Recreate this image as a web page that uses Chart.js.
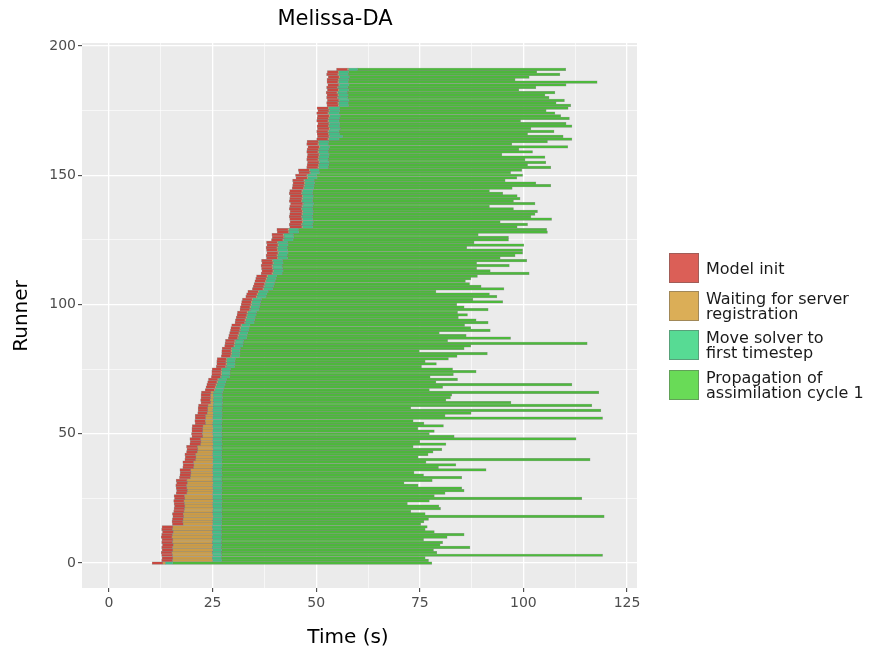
<!DOCTYPE html>
<html>
<head>
<meta charset="utf-8">
<title>Melissa-DA</title>
<script src="https://cdn.jsdelivr.net/npm/chart.js@4.4.1/dist/chart.umd.min.js"></script>
<style>
  html, body { margin: 0; padding: 0; background: #ffffff; }
  #wrap { position: relative; width: 877px; height: 649px; font-family: "DejaVu Sans", sans-serif; }
  #chart { position: absolute; left: 0; top: 0; }
  .txt { position: absolute; white-space: nowrap; text-align: center; color: #000; }
  #plot-title { left: 135px; top: 6px; width: 400px; font-size: 21px; line-height: 24px; }
  #x-title { left: 148px; top: 624px; width: 400px; font-size: 20px; line-height: 24px; }
  #y-title { left: -80px; top: 304px; width: 200px; font-size: 20px; line-height: 24px; transform: rotate(-90deg); }
  .leg-item { position: absolute; left: 669px; display: flex; align-items: center; }
  .leg-key { width: 30px; height: 30px; box-sizing: border-box; border: 1px solid rgba(90, 90, 90, 0.45); }
  .leg-text { margin-left: 7px; font-size: 16px; line-height: 15px; color: #1a1a1a; }
</style>
</head>
<body>
<div id="wrap">
  <canvas id="chart" width="877" height="649"></canvas>
  <div id="plot-title" class="txt">Melissa-DA</div>
  <div id="x-title" class="txt">Time (s)</div>
  <div id="y-title" class="txt">Runner</div>
  <div id="legend"></div>
</div>
<script>
// -----------------------------------------------------------
// Data: one entry per runner, listed from the top runner (191)
// down to runner 0. Times in seconds.
// -----------------------------------------------------------
const initStart = [
  54.9,
  52.7, 52.5, 52.9, 52.6, 52.6, 52.8, 52.5, 52.7, 52.4, 52.6, 52.5, 52.7, 52.5, 52.6,
  50.2, 50.4, 50.1, 50.3, 50.2, 50.1, 50.4, 50.2, 50.3, 50.1, 50.2, 50.3, 50.1,
  47.8, 47.7, 48.0, 47.8, 47.7, 47.9, 47.8, 47.7, 47.9, 47.8, 47.7,
  45.7, 45.8, 45.0, 45.1, 44.3, 44.4, 44.3, 44.2,
  43.6, 43.5, 43.7, 43.6, 43.5, 43.8, 43.6, 43.5, 43.7, 43.6, 43.5, 43.6, 43.7, 43.5, 43.6,
  40.5, 40.6, 39.3, 39.4, 39.2,
  38.0, 38.1, 37.9, 38.0, 38.1, 37.9, 38.0,
  36.8, 36.9, 36.7, 36.8, 36.9, 36.7,
  35.6, 35.4, 35.2, 35.0, 34.8, 34.6,
  33.5, 33.2, 33.0,
  32.2, 32.0, 31.9, 31.7, 31.6,
  31.0, 30.9, 30.7, 30.5, 30.4,
  29.6, 29.4, 29.3, 29.1, 28.9, 28.8,
  28.1, 28.0, 27.9,
  27.3, 27.2, 27.2, 27.1,
  26.1, 26.0, 26.0, 25.9,
  24.9, 24.8, 24.8, 24.7,
  24.0, 23.8, 23.6, 23.4, 23.2,
  22.3, 22.2, 22.2, 22.1, 22.2,
  21.6, 21.5, 21.5, 21.4,
  20.8, 20.8, 20.7, 20.8,
  20.1, 20.0, 20.0, 19.9, 20.0,
  19.5, 19.6, 19.5,
  18.7, 18.8, 18.7,
  18.3, 18.4, 18.3,
  17.8, 17.9, 17.8,
  17.1, 17.2, 17.1, 17.0,
  16.2, 16.3, 16.1, 16.2, 16.3, 16.2,
  15.7, 15.8, 15.6, 15.7, 15.8, 15.7, 15.6,
  15.3, 15.4, 15.3, 15.2, 15.3,
  12.8, 12.7, 12.9, 12.7, 12.6, 12.8, 12.7, 12.9, 12.7, 12.8, 12.6, 12.7, 12.8, 12.7,
  10.4
];

const initEnd = [
  57.5,
  55.3, 55.2, 55.5, 55.3, 55.2, 55.4, 55.1, 55.3, 55.0, 55.2, 55.1, 55.4, 55.2, 55.3,
  52.9, 53.0, 52.8, 53.1, 52.9, 52.8, 53.0, 52.9, 53.1, 52.8, 52.9, 53.0, 52.8,
  50.5, 50.4, 50.7, 50.5, 50.4, 50.6, 50.5, 50.4, 50.6, 50.5, 50.4,
  48.3, 48.4, 47.7, 47.8, 47.0, 47.1, 47.0, 46.9,
  46.5, 46.4, 46.6, 46.5, 46.4, 46.7, 46.5, 46.4, 46.6, 46.5, 46.4, 46.5, 46.6, 46.4, 46.5,
  43.2, 43.3, 42.0, 42.1, 41.9,
  40.6, 40.7, 40.5, 40.6, 40.7, 40.5, 40.6,
  39.4, 39.5, 39.3, 39.4, 39.5, 39.3,
  38.1, 37.9, 37.7, 37.5, 37.3, 37.1,
  36.0, 35.7, 35.5,
  34.5, 34.3, 34.2, 34.0, 33.9,
  33.3, 33.2, 33.0, 32.8, 32.7,
  31.8, 31.6, 31.5, 31.3, 31.1, 31.0,
  30.3, 30.2, 30.1,
  29.5, 29.4, 29.4, 29.3,
  28.3, 28.2, 28.2, 28.1,
  27.1, 27.0, 27.0, 26.9,
  26.2, 26.0, 25.8, 25.6, 25.4,
  24.6, 24.5, 24.5, 24.4, 24.5,
  23.9, 23.8, 23.8, 23.7,
  23.3, 23.3, 23.2, 23.3,
  22.7, 22.6, 22.6, 22.5, 22.6,
  22.1, 22.2, 22.1,
  21.3, 21.4, 21.3,
  20.9, 21.0, 20.9,
  20.4, 20.5, 20.4,
  19.7, 19.8, 19.7, 19.6,
  18.8, 18.9, 18.7, 18.8, 18.9, 18.8,
  18.2, 18.3, 18.1, 18.2, 18.3, 18.2, 18.1,
  17.9, 18.0, 17.9, 17.8, 17.9,
  15.4, 15.3, 15.5, 15.3, 15.2, 15.4, 15.3, 15.5, 15.3, 15.4, 15.2, 15.3, 15.4, 15.3,
  13.0
];

const waitEnd = [
  57.8,
  55.5, 55.4, 55.7, 55.5, 55.4, 55.6, 55.3, 55.5, 55.2, 55.4, 55.3, 55.6, 55.4, 55.5,
  53.1, 53.2, 53.0, 53.3, 53.1, 53.0, 53.2, 53.1, 53.3, 53.0, 53.1, 53.2, 53.0,
  50.7, 50.6, 50.9, 50.7, 50.6, 50.8, 50.7, 50.6, 50.8, 50.7, 50.6,
  48.5, 48.6, 47.9, 48.0, 47.2, 47.3, 47.2, 47.1,
  46.7, 46.6, 46.8, 46.7, 46.6, 46.9, 46.7, 46.6, 46.8, 46.7, 46.6, 46.7, 46.8, 46.6, 46.7,
  43.4, 43.5, 42.2, 42.3, 42.1,
  40.8, 40.9, 40.7, 40.8, 40.9, 40.7, 40.8,
  39.6, 39.7, 39.5, 39.6, 39.7, 39.5,
  38.3, 38.1, 37.9, 37.7, 37.5, 37.3,
  36.2, 35.9, 35.7,
  34.7, 34.5, 34.4, 34.2, 34.1,
  33.5, 33.4, 33.2, 33.0, 32.9,
  32.0, 31.8, 31.7, 31.5, 31.3, 31.2,
  30.5, 30.4, 30.3,
  29.7, 29.6, 29.6, 29.5,
  28.5, 28.4, 28.4, 28.3,
  27.3, 27.2, 27.2, 27.1,
  26.4, 26.2, 26.0, 25.8, 25.6,
  25.2, 25.1, 25.2, 25.1, 25.2,
  25.1, 25.1, 25.0, 25.1,
  25.1, 25.0, 25.1, 25.0,
  25.0, 25.1, 25.0, 25.0, 25.1,
  25.0, 25.0, 25.1,
  25.0, 25.1, 25.0,
  25.0, 25.0, 25.1,
  25.0, 25.1, 25.0,
  25.0, 25.0, 25.1, 25.0,
  25.0, 25.1, 25.0, 25.0, 25.1, 25.0,
  25.0, 25.0, 25.1, 25.0, 25.0, 25.1, 25.0,
  25.0, 25.1, 25.0, 25.0, 25.0,
  24.9, 25.0, 24.9, 25.0, 24.9, 25.0, 24.9, 25.0, 24.9, 25.0, 24.9, 25.0, 24.9, 25.0,
  13.6
];

const moveEnd = [
  60.0,
  57.8, 57.7, 58.0, 57.8, 57.7, 57.9, 57.6, 57.8, 57.5, 57.7, 57.6, 57.9, 57.7, 57.8,
  55.6, 55.7, 55.5, 55.8, 55.6, 55.5, 55.7, 55.6, 55.8, 55.5, 55.6, 56.4, 55.5,
  53.0, 52.9, 53.2, 53.0, 52.9, 53.1, 53.0, 52.9, 53.1, 53.0, 52.9,
  50.7, 50.8, 50.1, 50.2, 49.5, 49.6, 49.5, 49.4,
  49.2, 49.1, 49.3, 49.2, 49.1, 49.4, 49.2, 49.1, 49.3, 49.2, 49.1, 49.2, 49.3, 49.1, 49.2,
  45.7, 45.8, 44.5, 44.6, 44.4,
  43.1, 43.2, 43.0, 43.1, 43.2, 43.0, 43.1,
  41.9, 42.0, 41.8, 41.9, 42.0, 41.8,
  40.5, 40.3, 40.1, 39.9, 39.7, 39.5,
  38.4, 38.1, 37.9,
  36.8, 36.6, 36.5, 36.3, 36.2,
  35.6, 35.5, 35.3, 35.1, 35.0,
  34.0, 33.8, 33.7, 33.5, 33.3, 33.2,
  32.5, 32.4, 32.3,
  31.7, 31.6, 31.6, 31.5,
  30.5, 30.4, 30.4, 30.3,
  29.3, 29.2, 29.2, 29.1,
  28.4, 28.2, 28.0, 27.8, 27.6,
  27.4, 27.3, 27.4, 27.3, 27.4,
  27.3, 27.3, 27.2, 27.3,
  27.3, 27.2, 27.3, 27.2,
  27.2, 27.3, 27.2, 27.2, 27.3,
  27.2, 27.2, 27.3,
  27.2, 27.3, 27.2,
  27.2, 27.2, 27.3,
  27.2, 27.3, 27.2,
  27.2, 27.2, 27.3, 27.2,
  27.2, 27.3, 27.2, 27.2, 27.3, 27.2,
  27.2, 27.2, 27.3, 27.2, 27.2, 27.3, 27.2,
  27.2, 27.3, 27.2, 27.2, 27.2,
  27.1, 27.2, 27.1, 27.2, 27.1, 27.2, 27.1, 27.2, 27.1, 27.2, 27.1, 27.2, 27.1, 27.2,
  15.4
];

const propEnd = [
  110.2, 103.2, 108.8, 101.4, 98.0, 117.8, 110.3, 103.0, 98.9, 107.6,
  105.2, 106.2, 109.9, 107.9, 111.4, 110.8, 105.5, 107.6, 109.0, 111.1,
  99.3, 110.3, 111.7, 101.8, 107.4, 101.0, 109.6, 111.7, 105.8, 97.2,
  110.7, 98.9, 102.2, 94.8, 105.2, 100.4, 105.4, 101.0, 106.6, 99.6,
  96.9, 99.8, 98.4, 95.6, 103.0, 106.6, 97.3, 91.8, 95.0, 98.5,
  99.2, 97.6, 102.8, 91.8, 97.6, 103.4, 102.8, 101.8, 106.8, 94.4,
  101.0, 98.5, 105.6, 105.8, 89.1, 96.4, 96.4, 88.1, 100.1, 86.3,
  99.8, 99.8, 98.0, 94.4,
  100.8, 88.7, 96.6, 88.7, 92.0, 101.4, 88.9, 87.3, 86.0, 87.0,
  89.8, 95.3, 78.9, 91.8, 93.6, 87.8, 95.0, 83.9, 85.7, 91.5,
  84.1, 86.5, 84.3, 88.6, 91.5, 85.8, 87.3, 92.0, 79.7, 86.2,
  96.9, 81.7, 115.4, 87.3, 85.7, 74.9,
  91.3, 84.0, 81.9, 76.3, 79.0, 75.4, 82.9, 88.6, 83.1, 77.5,
  84.1, 78.9, 111.7, 80.5, 77.3, 118.2, 82.7, 82.4, 81.3, 97.0,
  116.5, 72.8, 118.7, 87.4, 81.1, 119.1, 73.4, 76.0, 80.7, 74.5,
  78.5, 77.3, 83.3, 112.7, 75.0, 81.3, 73.4, 80.3, 78.2, 77.0,
  74.6, 116.1, 76.5, 83.7, 79.5, 91.0, 73.6, 75.9, 85.1, 78.0,
  71.2, 74.6, 85.1, 85.7, 81.1, 78.5, 114.1, 77.3, 72.0, 79.6,
  80.0, 72.8, 76.3, 119.5, 77.1, 76.0, 75.2, 76.8, 76.3, 78.5,
  85.7, 81.6, 75.9, 80.5, 79.9, 87.1, 78.3, 79.1, 119.1, 76.3,
  77.1, 77.9
];

const phaseNames = [
  'Model init',
  'Waiting for server registration',
  'Move solver to first timestep',
  'Propagation of assimilation cycle 1'
];
const legendLines = [
  ['Model init'],
  ['Waiting for server', 'registration'],
  ['Move solver to', 'first timestep'],
  ['Propagation of', 'assimilation cycle 1']
];
const legendColors = ['#DB5F57', '#DBAE57', '#57DB94', '#69DB57'];
const barColors = ['#C84840', '#CC9C46', '#42BE86', '#4DB83C'];
const legendTops = [253, 291, 330, 370];

const xTickVals = [0, 25, 50, 75, 100, 125];
const xMinorVals = [12.5, 37.5, 62.5, 87.5, 112.5];
const yTickVals = [0, 50, 100, 150, 200];
const yMinorVals = [25, 75, 125, 175];

// -----------------------------------------------------------
// Build the datasets
// -----------------------------------------------------------
const nRunners = initStart.length;
[initEnd, waitEnd, moveEnd, propEnd].forEach((arr, k) => {
  if (arr.length !== nRunners) console.error('length mismatch in array', k, arr.length, nRunners);
});

function segments(from, to) {
  return from.map((a, i) => ({ x: [a, to[i]], y: nRunners - 1 - i }));
}

const phaseBounds = [
  [initStart, initEnd],
  [initEnd, waitEnd],
  [waitEnd, moveEnd],
  [moveEnd, propEnd]
];

const datasets = phaseBounds.map((b, k) => ({
  label: phaseNames[k],
  data: segments(b[0], b[1]),
  backgroundColor: barColors[k],
  borderColor: 'rgba(105, 110, 105, 0.6)',
  borderWidth: 0.5,
  borderSkipped: false
}));

// Grey panel behind the grid, like the ggplot theme
const panelBackground = {
  id: 'panelBackground',
  beforeDraw(chart) {
    const { ctx, chartArea } = chart;
    ctx.save();
    ctx.fillStyle = '#EBEBEB';
    ctx.fillRect(chartArea.left, chartArea.top, chartArea.right - chartArea.left, chartArea.bottom - chartArea.top);
    ctx.restore();
  }
};

function gridFor(majors) {
  return {
    color: '#FFFFFF',
    lineWidth: c => (c.tick && majors.includes(c.tick.value)) ? 1.3 : 0.6,
    tickColor: c => (c.tick && majors.includes(c.tick.value)) ? '#333333' : 'rgba(0,0,0,0)',
    tickWidth: 1,
    tickLength: 4,
    drawTicks: true,
    offset: false
  };
}

const tickFont = { family: '"DejaVu Sans", sans-serif', size: 14 };

const ctx = document.getElementById('chart').getContext('2d');
new Chart(ctx, {
  type: 'bar',
  data: { datasets: datasets },
  options: {
    indexAxis: 'y',
    responsive: false,
    animation: false,
    events: [],
    layout: { padding: { top: 43, right: 240, bottom: 0, left: 0 } },
    datasets: {
      bar: { grouped: false, barPercentage: 1, categoryPercentage: 1 }
    },
    plugins: {
      legend: { display: false },
      tooltip: { enabled: false },
      title: { display: false }
    },
    scales: {
      x: {
        type: 'linear',
        min: -6.52,
        max: 127.41,
        afterBuildTicks: s => { s.ticks = xTickVals.concat(xMinorVals).sort((a, b) => a - b).map(v => ({ value: v })); },
        afterFit: s => { s.height = 61; s.paddingLeft = 0; s.paddingRight = 0; },
        grid: gridFor(xTickVals),
        border: { display: false },
        ticks: {
          autoSkip: false,
          maxRotation: 0,
          padding: 3,
          color: '#4D4D4D',
          font: tickFont,
          callback: v => xTickVals.includes(v) ? String(v) : ''
        }
      },
      y: {
        type: 'linear',
        offset: false,
        min: -9.67,
        max: 201.16,
        afterBuildTicks: s => { s.ticks = yTickVals.concat(yMinorVals).sort((a, b) => a - b).map(v => ({ value: v })); },
        afterFit: s => { s.width = 82; s.paddingTop = 0; s.paddingBottom = 0; },
        grid: gridFor(yTickVals),
        border: { display: false },
        ticks: {
          autoSkip: false,
          padding: 2,
          color: '#4D4D4D',
          font: tickFont,
          callback: v => yTickVals.includes(v) ? String(v) : ''
        }
      }
    }
  },
  plugins: [panelBackground]
});

// -----------------------------------------------------------
// Legend (HTML, to the right of the panel)
// -----------------------------------------------------------
const legendBox = document.getElementById('legend');
legendLines.forEach((lines, k) => {
  const item = document.createElement('div');
  item.className = 'leg-item';
  item.style.top = legendTops[k] + 'px';
  const key = document.createElement('div');
  key.className = 'leg-key';
  key.style.background = legendColors[k];
  const text = document.createElement('div');
  text.className = 'leg-text';
  text.innerHTML = lines.join('<br>');
  item.appendChild(key);
  item.appendChild(text);
  legendBox.appendChild(item);
});
</script>
</body>
</html>
